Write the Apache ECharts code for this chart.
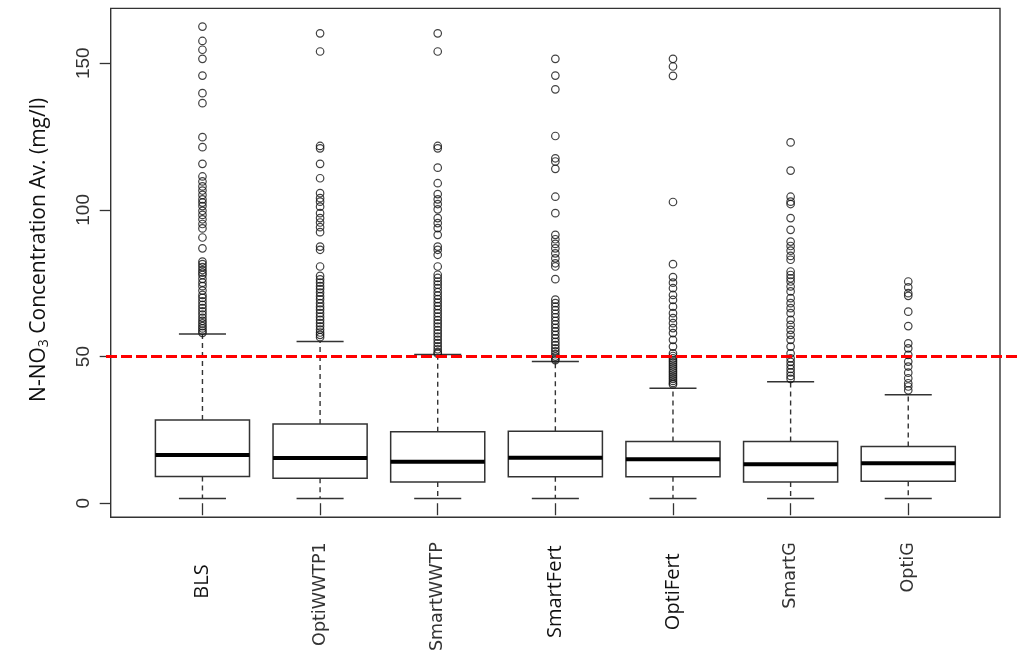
<!DOCTYPE html>
<html>
<head>
<meta charset="utf-8">
<script src="https://cdn.jsdelivr.net/npm/echarts@6/dist/echarts.min.js"></script>
<style>
html,body{margin:0;padding:0;background:#fff;}
#chart{width:1024px;height:670px;}
</style>
</head>
<body>
<div id="chart"></div>
<script>
// ---- data ----
var categories = ['BLS', 'OptiWWTP1', 'SmartWWTP', 'SmartFert', 'OptiFert', 'SmartG', 'OptiG'];
var lowerWhisker = [1.6, 1.6, 1.6, 1.6, 1.6, 1.6, 1.6];
var q1 = [9.1, 8.5, 7.2, 9.0, 9.0, 7.2, 7.5];
var median = [16.4, 15.4, 14.1, 15.5, 15.0, 13.3, 13.6];
var q3 = [28.4, 27.0, 24.4, 24.5, 21.0, 21.0, 19.3];
var upperWhisker = [57.7, 55.1, 50.7, 48.3, 39.2, 41.4, 37.0];

var outliersBLS = [162.5, 157.6, 154.6, 151.5, 145.8, 139.8, 136.4, 124.8, 121.4, 115.7, 111.4, 109.7, 108, 106.6, 105.1, 103.6, 102.5, 101.3, 99.7, 98.3, 96.8, 95.2, 93.7, 90.6, 86.9, 82.4, 81.5, 80.5, 79.5, 78.6, 77.8, 76.5, 75.2, 74, 72.5, 71, 70, 68.8, 67.6, 66.5, 65.4, 64.3, 63.2, 62.2, 61.3, 60.4, 59.6, 58.8, 58.1];
var outliersOptiWWTP1 = [160.2, 154.0, 121.8, 121.0, 115.7, 110.8, 105.7, 104.0, 102.8, 101.1, 98.9, 97.2, 95.7, 94.1, 92.4, 87.5, 86.4, 80.7, 77.5, 76.3, 75.2, 74, 73, 71.8, 70.6, 69.5, 68.2, 67, 66, 64.8, 63.6, 62.5, 61.4, 60.3, 59.2, 58.2, 57.4, 56.6];
var outliersSmartWWTP = [160.2, 154.0, 121.8, 121.0, 114.4, 109.1, 105.4, 103.6, 102, 100.2, 97.2, 95.5, 93.8, 91.5, 87.5, 86.4, 84.7, 80.7, 77.9, 76.8, 75.6, 74.5, 73.3, 72, 70.8, 69.6, 68.4, 67.2, 66, 64.8, 63.6, 62.4, 61.3, 60.2, 59, 57.9, 56.8, 55.7, 54.6, 53.5, 52.5, 51.5, 51];
var outliersSmartFert = [151.5, 145.8, 141.1, 125.2, 117.6, 116.5, 114.0, 104.5, 98.9, 91.5, 90.0, 88.4, 86.9, 85.2, 83.5, 81.8, 80.7, 76.4, 69.4, 68.2, 67, 65.8, 64.6, 63.4, 62.2, 61, 59.8, 58.6, 57.4, 56.2, 55, 53.9, 52.8, 51.8, 50.8, 50, 49.3, 48.8];
var outliersOptiFert = [151.5, 148.9, 145.7, 102.7, 81.5, 77.1, 75.2, 73.3, 71, 69.3, 67, 64.8, 63.1, 61.4, 59.7, 58.0, 55.7, 53.4, 51.1, 50.2, 49.4, 48.7, 48, 47.3, 46.6, 45.9, 45.2, 44.5, 43.8, 43.1, 42.4, 41.7, 41, 40.5];
var outliersSmartG = [123.0, 113.4, 104.5, 102.8, 102.0, 97.2, 93.2, 89.2, 87.7, 86.1, 84.3, 83, 79.0, 77.8, 76.7, 75.6, 73.9, 72.2, 69.9, 68.2, 66.5, 64.8, 62.5, 60.8, 59.1, 57.4, 55.7, 53.4, 51.1, 49.4, 48.2, 47, 45.8, 44.6, 43.4, 42.4];
var outliersOptiG = [75.6, 73.6, 71.6, 70.7, 65.3, 60.4, 54.5, 52.8, 50.6, 48.3, 46.6, 44.5, 42.6, 40.9, 39.8, 38.5];

var yTicks = [0, 50, 100, 150];
var threshold = 50;
var yMin = -4.8, yMax = 168.7;

// ---- build ----
var outlierLists = [outliersBLS, outliersOptiWWTP1, outliersSmartWWTP, outliersSmartFert, outliersOptiFert, outliersSmartG, outliersOptiG];
var catPos = categories.map(function (c, i) { return i + 1; });
var boxData = categories.map(function (c, i) {
  return [catPos[i], lowerWhisker[i], q1[i], median[i], q3[i], upperWhisker[i]];
});
var outlierData = [];
outlierLists.forEach(function (list, i) {
  list.forEach(function (v) { outlierData.push([catPos[i], v]); });
});

var labelStyleKeys = ['a', 'b', 'b', 'c', 'd', 'b', 'b'];

var chart = echarts.init(document.getElementById('chart'), null, { renderer: 'canvas' });
chart.setOption({
  animation: false,
  backgroundColor: '#fff',
  grid: [
    { left: 110.7, right: 24, top: 8.4, bottom: 152.7, show: true, borderColor: '#333', borderWidth: 1.4, backgroundColor: 'transparent' },
    { left: 106, right: 4, top: 8.4, bottom: 152.7, show: false }
  ],
  xAxis: [{
    gridIndex: 0,
    type: 'value',
    min: 0.22,
    max: 7.78,
    splitLine: { show: false },
    axisLine: { show: false },
    axisTick: { show: true, customValues: catPos, length: 12, lineStyle: { color: '#333', width: 1.3 } },
    axisLabel: {
      show: true,
      customValues: catPos,
      rotate: 90,
      margin: 25,
      formatter: function (v) {
        var i = Math.round(v) - 1;
        return '{' + labelStyleKeys[i] + '|' + categories[i] + '}';
      },
      rich: {
        a: { fontFamily: 'Open Sans', fontSize: 20, color: '#111', padding: [0, 22, 0, 0] },
        b: { fontFamily: 'DejaVu Sans', fontSize: 17.5, color: '#333' },
        c: { fontFamily: 'Open Sans', fontSize: 20, color: '#111', padding: [0, 3, 0, 0] },
        d: { fontFamily: 'Open Sans', fontSize: 20, color: '#111', padding: [0, 11, 0, 0] }
      }
    }
  }, {
    gridIndex: 1, type: 'value', min: 0, max: 1, show: false
  }],
  yAxis: [{
    gridIndex: 0,
    type: 'value',
    min: yMin,
    max: yMax,
    splitLine: { show: false },
    axisLine: { show: false },
    axisTick: { show: true, customValues: yTicks, length: 11, lineStyle: { color: '#333', width: 1.3 } },
    axisLabel: {
      customValues: yTicks,
      rotate: 90,
      margin: 17,
      fontFamily: 'Liberation Sans',
      fontSize: 19,
      color: '#333'
    },
    name: 'N-NO{sub|3} Concentration Av. (mg/l)',
    nameLocation: 'middle',
    nameGap: 60,
    nameTextStyle: {
      fontFamily: 'Open Sans',
      fontSize: 21,
      color: '#111',
      padding: [0, 0, 0, 26],
      rich: {
        sub: { fontFamily: 'Open Sans', fontSize: 14, color: '#111', verticalAlign: 'bottom', padding: [10, 0, 0, 0] }
      }
    }
  }, {
    gridIndex: 1, type: 'value', min: yMin, max: yMax, show: false
  }],
  series: [{
    type: 'custom',
    name: 'boxes',
    xAxisIndex: 0,
    yAxisIndex: 0,
    data: boxData,
    encode: { x: 0, y: [1, 2, 3, 4, 5] },
    z: 2,
    renderItem: function (params, api) {
      var x = api.value(0);
      var pLo = api.coord([x, api.value(1)]);
      var pQ1 = api.coord([x, api.value(2)]);
      var pMed = api.coord([x, api.value(3)]);
      var pQ3 = api.coord([x, api.value(4)]);
      var pHi = api.coord([x, api.value(5)]);
      var band = api.size([1, 0])[0];
      var bw = band * 0.8, cw = band * 0.4;
      var cx = pLo[0];
      var dash = { stroke: '#333', lineWidth: 1.4, lineDash: [5, 4] };
      var solid = { stroke: '#333', lineWidth: 1.5 };
      return {
        type: 'group',
        children: [
          { type: 'line', shape: { x1: cx, y1: pQ1[1], x2: cx, y2: pLo[1] }, style: dash },
          { type: 'line', shape: { x1: cx, y1: pQ3[1], x2: cx, y2: pHi[1] }, style: dash },
          { type: 'line', shape: { x1: cx - cw / 2, y1: pLo[1], x2: cx + cw / 2, y2: pLo[1] }, style: solid },
          { type: 'line', shape: { x1: cx - cw / 2, y1: pHi[1], x2: cx + cw / 2, y2: pHi[1] }, style: solid },
          { type: 'rect', shape: { x: cx - bw / 2, y: pQ3[1], width: bw, height: pQ1[1] - pQ3[1] }, style: { fill: '#fff', stroke: '#333', lineWidth: 1.5 } },
          { type: 'line', shape: { x1: cx - bw / 2, y1: pMed[1], x2: cx + bw / 2, y2: pMed[1] }, style: { stroke: '#000', lineWidth: 4 } }
        ]
      };
    }
  }, {
    type: 'scatter',
    name: 'outliers',
    xAxisIndex: 0,
    yAxisIndex: 0,
    data: outlierData,
    symbol: 'circle',
    symbolSize: 7.5,
    z: 3,
    itemStyle: { color: 'rgba(0,0,0,0)', borderColor: '#111', borderWidth: 1.2 },
    emphasis: { disabled: true }
  }, {
    type: 'line',
    name: 'threshold',
    xAxisIndex: 1,
    yAxisIndex: 1,
    data: [],
    z: 5,
    markLine: {
      silent: true,
      symbol: ['none', 'none'],
      label: { show: false },
      lineStyle: { color: '#ff0000', width: 3.2, type: [11, 4] },
      data: [{ yAxis: threshold }]
    }
  }]
});
</script>
</body>
</html>
